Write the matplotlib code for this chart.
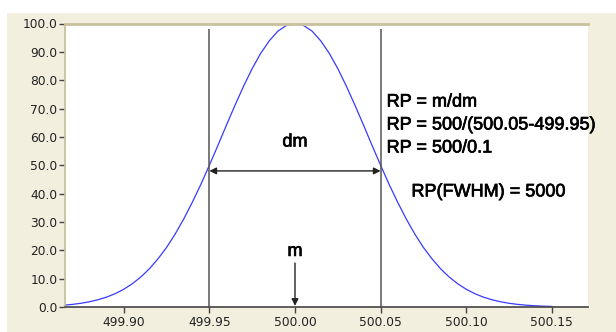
import numpy as np
import matplotlib.pyplot as plt
import matplotlib.patheffects as pe
from matplotlib.patches import Rectangle

mz_start = 499.865
mz_step = 0.005
intensity = [0.64, 0.92, 1.31, 1.85, 2.56, 3.49, 4.7, 6.25, 8.2, 10.6,
             13.5, 17.0, 21.0, 25.7, 31.0, 36.9, 43.2, 50.0, 57.0, 64.2,
             71.2, 77.9, 84.1, 89.5, 93.9, 97.3, 99.3, 100.0,
             99.3, 97.3, 93.9, 89.5, 84.1, 77.9, 71.2, 64.2, 57.0, 50.0,
             43.2, 36.9, 31.0, 25.7, 21.0, 17.0, 13.5, 10.6, 8.2, 6.25,
             4.7, 3.49, 2.56, 1.85, 1.31, 0.92, 0.64, 0.44, 0.29, 0.20]
mz = mz_start + mz_step * np.arange(len(intensity))

half_left = 499.95
half_right = 500.05
peak_mz = 500.00
line_top = 98.2
dm_level = 48.0

x_ticks = [499.90, 499.95, 500.00, 500.05, 500.10, 500.15]
y_ticks = [0, 10, 20, 30, 40, 50, 60, 70, 80, 90, 100]

rp_lines = ["RP = m/dm", "RP = 500/(500.05-499.95)", "RP = 500/0.1"]
rp_result = "RP(FWHM) = 5000"

beige = '#f2efdf'
khaki = '#c9c29c'

fig = plt.figure(figsize=(6.16, 3.32), dpi=100)
fig.patch.set_facecolor('white')
# beige panel behind the plot
fig.add_artist(Rectangle((7 / 616, 0), 1, (332 - 13) / 332,
                         transform=fig.transFigure, facecolor=beige,
                         edgecolor='none', zorder=-10))
ax = fig.add_axes([65 / 616, 25 / 332, 523 / 616, 283.5 / 332])
ax.set_zorder(1)
ax.set_facecolor('white')

ax.plot(mz, intensity, color='#3a3aff', lw=0.9)
ax.vlines([half_left, half_right], 0, line_top, colors='#555555', lw=1.1)

# slightly heavier text, like the old screen rendering
txt = dict(fontsize=13, family='Liberation Sans',
           path_effects=[pe.withStroke(linewidth=0.5, foreground='black')])

ax.annotate('', xy=(half_left, dm_level), xytext=(half_right, dm_level),
            arrowprops=dict(arrowstyle='<|-|>', color='#222222', lw=1.0,
                            mutation_scale=10, shrinkA=0, shrinkB=0))
ax.text(peak_mz, 58.2, 'dm', ha='center', va='center', **txt)
ax.annotate('', xy=(peak_mz, 0.4), xytext=(peak_mz, 15.5),
            arrowprops=dict(arrowstyle='-|>', color='#222222', lw=1.0,
                            mutation_scale=10, shrinkA=0, shrinkB=0))
ax.text(peak_mz, 19.6, 'm', ha='center', va='center', **txt)

for i, s in enumerate(rp_lines):
    ax.text(500.0535, 72.3 - 8.1 * i, s, ha='left', va='center',
            clip_on=False, **txt)
ax.text(500.068, 40.6, rp_result, ha='left', va='center', **txt)

ax.set_xlim(499.8657, 500.1711)
ax.set_ylim(0, 100)
ax.set_xticks(x_ticks)
ax.set_xticklabels(['%.2f' % v for v in x_ticks])
ax.set_yticks(y_ticks)
ax.set_yticklabels(['%.1f' % v for v in y_ticks])
ax.tick_params(direction='out', length=4, width=1, colors='#444444',
               labelcolor='#222222', labelsize=8.8, pad=1.5)
ax.tick_params(axis='x', pad=2.5)

ax.spines['right'].set_visible(False)
ax.spines['top'].set_color(khaki)
ax.spines['top'].set_linewidth(2)
ax.spines['left'].set_color(khaki)
ax.spines['left'].set_linewidth(1.3)
ax.spines['bottom'].set_color('#444444')
ax.spines['bottom'].set_linewidth(1.2)

fig.savefig('out.png', dpi=100)
